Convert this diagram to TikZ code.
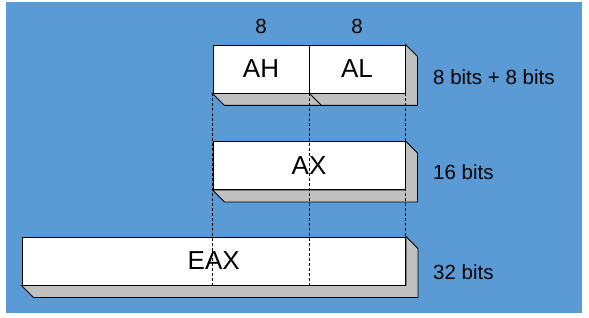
\documentclass[tikz,border=0pt]{standalone}
\usepackage{fontspec}
\setmainfont{Liberation Sans}
\definecolor{bgblue}{HTML}{5B9BD5}
\definecolor{sidegray}{HTML}{C0C0C0}
\begin{document}
\begin{tikzpicture}[x=1pt,y=-1pt,
  face/.style={draw=black, line width=0.9pt, fill=white, minimum height=48pt, inner sep=0pt, font=\fontsize{26}{28}\selectfont},
  lab/.style={font=\fontsize{20.5}{22}\selectfont, text=black, inner sep=0pt},
  guide/.style={draw=black, dashed, line width=0.6pt, dash pattern=on 3pt off 2pt}]
\useasboundingbox (0,0) rectangle (589,318);
\fill[bgblue] (6,2) rectangle (582,313);
% front faces
\node[face, minimum width=96pt] (AH) at (261,69) {AH};
\node[face, minimum width=96pt] (AL) at (357,69) {AL};
\node[face, minimum width=192pt] (AX) at (309,165.5) {AX};
\node[face, minimum width=383.5pt] (EAX) at (213.75,261) {EAX};
% depth (3D sides)
\foreach \n/\m in {AH/AL, AX/AX, EAX/EAX}{
  \filldraw[fill=sidegray, draw=black, line width=0.9pt]
    (\m.north east) -- ++(12,12) -- ([shift={(12,12)}]\m.south east)
    -- ([shift={(12,12)}]\n.south west) -- (\n.south west) -- (\m.south east) -- cycle;
}
\draw[line width=0.9pt] (AH.south east) -- ++(12,12);
% redraw faces on top
\node[face, minimum width=96pt] at (AH) {AH};
\node[face, minimum width=96pt] at (AL) {AL};
\node[face, minimum width=192pt] at (AX) {AX};
\node[face, minimum width=383.5pt] at (EAX) {EAX};
% guides
\coordinate (g1) at (AH.south west |- EAX.south);
\coordinate (g2) at (AH.south east |- EAX.south);
\coordinate (g3) at (AL.south east |- EAX.north);
\draw[guide] (AH.south west) -- (g1);
\draw[guide] (AH.south east) -- (g2);
\draw[guide] (AL.south east) -- (g3);
% labels
\node[lab] (n1) at (261,26) {8};
\node[lab] (n2) at (357,26) {8};
\node[lab, anchor=west] (l1) at (433,77) {8 bits + 8 bits};
\node[lab, anchor=west] (l2) at (433,172) {16 bits};
\node[lab, anchor=west] (l3) at (433,272) {32 bits};
\end{tikzpicture}
\end{document}
